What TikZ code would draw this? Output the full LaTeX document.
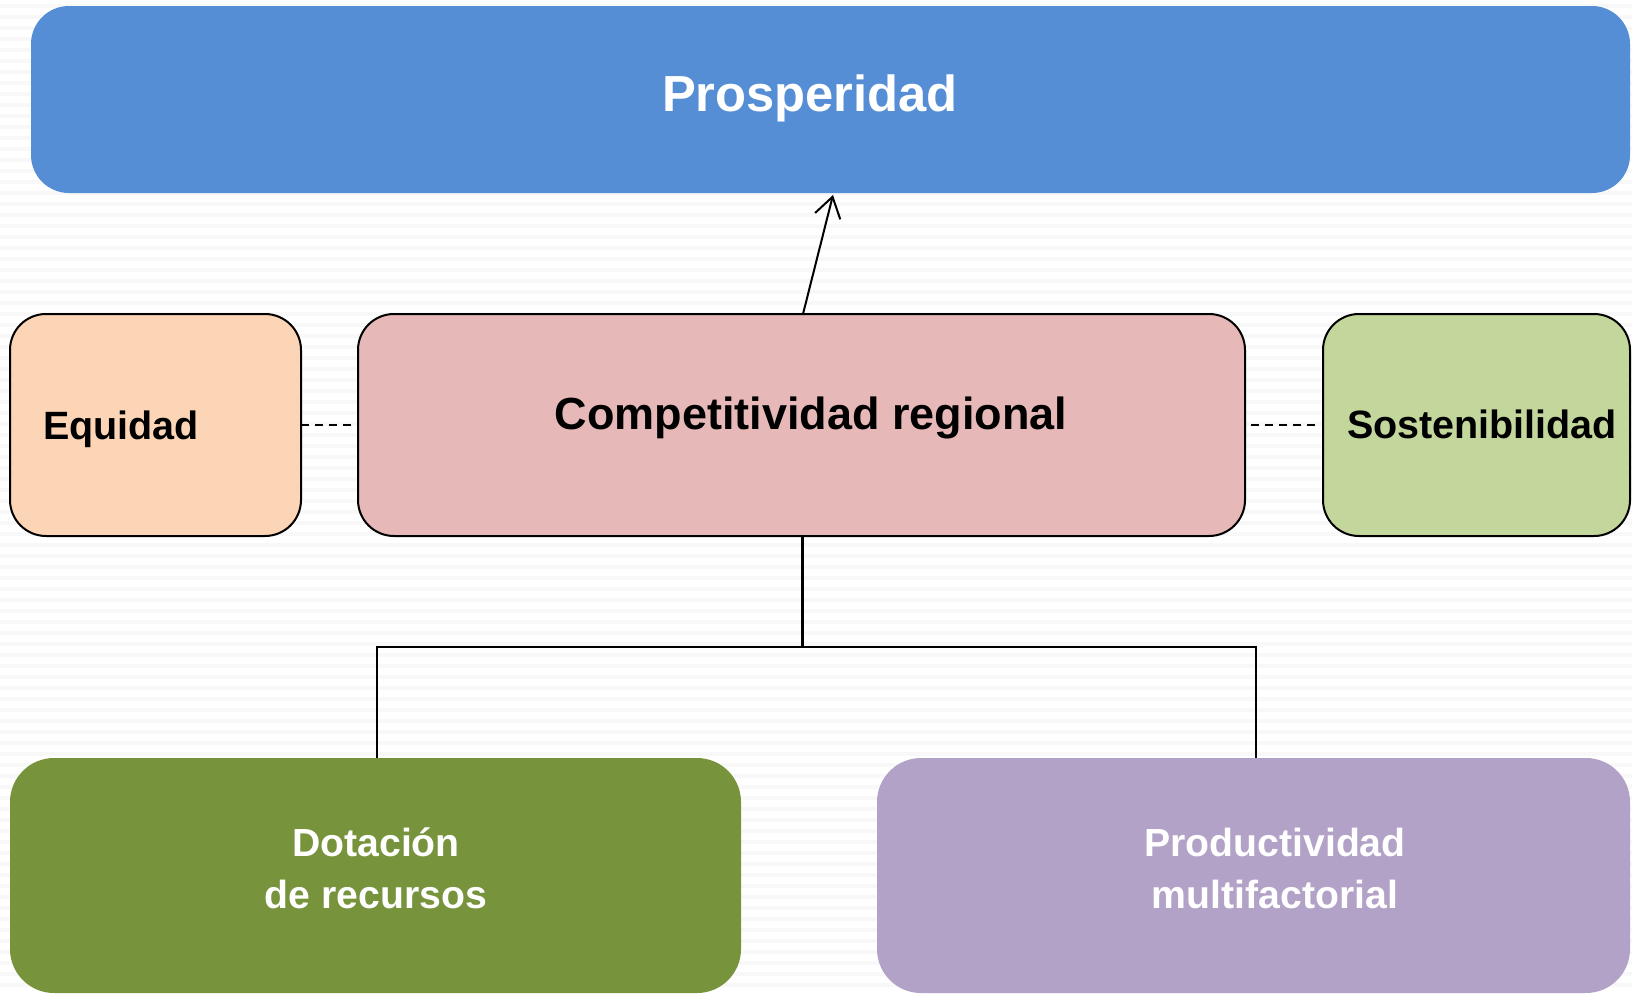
\documentclass[tikz,border=0pt]{standalone}
\usepackage{fontspec}
\setmainfont{Liberation Sans}
\usetikzlibrary{arrows.meta}
\definecolor{cpros}{HTML}{558ED5}
\definecolor{cequi}{HTML}{FBD5B5}
\definecolor{ccomp}{HTML}{E6B9B8}
\definecolor{csost}{HTML}{C3D69B}
\definecolor{cdota}{HTML}{77933C}
\definecolor{cprod}{HTML}{B3A2C7}
\definecolor{cstripe}{HTML}{F8F8F8}
\tikzset{
  boxbase/.style={rectangle, inner sep=0pt, outer sep=0pt},
  plainbox/.style={boxbase, draw=none, rounded corners=38pt},
  linedbox/.style={boxbase, draw=black, line width=2pt, rounded corners=36pt},
  lbl/.style={font=\bfseries, inner sep=0pt, align=center},
  conn/.style={line width=2pt, draw=black},
}
\begin{document}
\begin{tikzpicture}[x=1pt,y=-1pt]
\useasboundingbox (0,0) rectangle (1632,993);
\fill[white] (0,0) rectangle (1632,993);
\foreach \yy in {4,15,...,993} {\fill[cstripe] (0,\yy) rectangle (1632,\yy+4);}
% boxes
\node[plainbox, fill=cpros, minimum width=1599pt, minimum height=187pt] (pros) at (830.5,99.5) {};
\node[linedbox, fill=cequi, minimum width=291pt, minimum height=222pt] (equi) at (155.5,425) {};
\node[linedbox, fill=ccomp, minimum width=887pt, minimum height=222pt] (comp) at (801.5,425) {};
\node[linedbox, fill=csost, minimum width=307pt, minimum height=222pt] (sost) at (1476.5,425) {};
\node[plainbox, fill=cdota, minimum width=731pt, minimum height=235pt, rounded corners=44pt] (dota) at (375.5,875.5) {};
\node[plainbox, fill=cprod, minimum width=753pt, minimum height=235pt, rounded corners=44pt] (prod) at (1253.5,875.5) {};
% texts
\node[lbl, text=white, font=\fontsize{50.7pt}{60pt}\selectfont\bfseries] (prosT) at (810,98) {Prosperidad};
\node[lbl, font=\fontsize{45pt}{54pt}\selectfont\bfseries] (compT) at (811,418) {Competitividad regional};
\node[lbl, anchor=west, font=\fontsize{39.5pt}{48pt}\selectfont\bfseries] (equiT) at (43,429) {Equidad};
\node[lbl, font=\fontsize{39.5pt}{48pt}\selectfont\bfseries] (sostT) at (1482,424) {Sostenibilidad};
\node[lbl, text=white, font=\fontsize{39.2pt}{52pt}\selectfont\bfseries] (dotaT) at (376,868) {Dotación\\de recursos};
\node[lbl, text=white, font=\fontsize{39.2pt}{52pt}\selectfont\bfseries] (prodT) at (1275,868) {Productividad\\multifactorial};
% connectors
\coordinate (arrS) at (803,314);
\coordinate (arrE) at (833,195);
\draw[conn, -{Straight Barb[length=20pt,width=26pt,line width=2pt]}] (arrS) -- (arrE);
\coordinate (dl1) at (301,425);
\coordinate (dl2) at (354,425);
\coordinate (dr1) at (1251,425);
\coordinate (dr2) at (1319,425);
\draw[conn, dash pattern=on 8pt off 6pt] (dl1) -- (dl2);
\draw[conn, dash pattern=on 8pt off 6pt] (dr1) -- (dr2);
\coordinate (tj) at (802,647);
\draw[line width=3pt] (comp.south -| tj) -- (tj);
\draw[conn] (dota.north -| 377,0) |- (tj) -| (prod.north -| 1256,0);
\end{tikzpicture}
\end{document}
